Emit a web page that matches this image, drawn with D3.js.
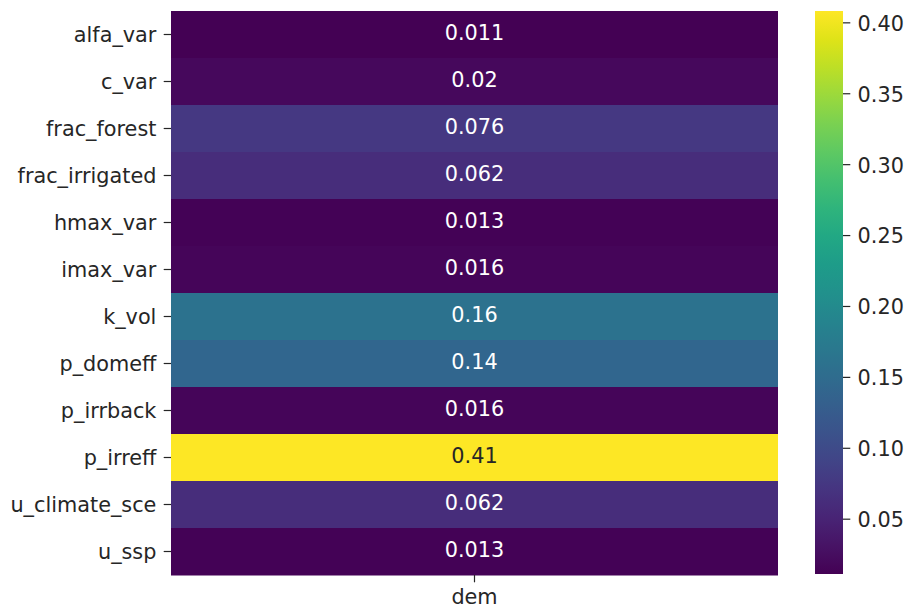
<!DOCTYPE html>
<html>
<head>
<meta charset="utf-8">
<script src="https://cdn.jsdelivr.net/npm/d3@7"></script>
<style>
  body { margin: 0; background: #fff; }
  svg text { font-family: "DejaVu Sans", sans-serif; fill: #262626; }
</style>
</head>
<body>
<svg id="chart"></svg>
<script>
// rows of the heatmap, top to bottom
var rowNames = ["alfa_var", "c_var", "frac_forest", "frac_irrigated", "hmax_var", "imax_var",
                "k_vol", "p_domeff", "p_irrback", "p_irreff", "u_climate_sce", "u_ssp"];
var colNames = ["dem"];
var demValues = [0.011, 0.020, 0.076, 0.062, 0.013, 0.016, 0.16, 0.14, 0.016, 0.408, 0.062, 0.013];
var cbarTicks = [0.05, 0.10, 0.15, 0.20, 0.25, 0.30, 0.35, 0.40];

var W = 906, H = 609;
var mLeft = 171, mRight = 778, mTop = 11, mBottom = 575;
var cbLeft = 815, cbRight = 843;
var fs = 20.8, tk = 7.3;

var svg = d3.select("#chart").attr("width", W).attr("height", H);

var y = d3.scaleBand().domain(rowNames).range([mTop, mBottom]);
var x = d3.scaleBand().domain(colNames).range([mLeft, mRight]);
var vmin = d3.min(demValues), vmax = d3.max(demValues);
var color = d3.scaleSequential(d3.interpolateViridis).domain([vmin, vmax]);

var cells = rowNames.map(function(r, i) { return {row: r, col: "dem", v: demValues[i]}; });

svg.append("g").selectAll("rect")
    .data(cells)
    .enter().append("rect")
    .attr("x", function(d) { return x(d.col); })
    .attr("y", function(d) { return y(d.row); })
    .attr("width", x.bandwidth())
    .attr("height", y.bandwidth() + 0.5)
    .attr("fill", function(d) { return color(d.v); });

var fmt = d3.format(".2~g");
svg.append("g").selectAll("text")
    .data(cells)
    .enter().append("text")
    .attr("x", function(d) { return x(d.col) + x.bandwidth() / 2; })
    .attr("y", function(d) { return y(d.row) + y.bandwidth() / 2 + 0.25 * fs; })
    .attr("text-anchor", "middle")
    .style("font-size", fs + "px")
    .style("fill", function(d) {
        var c = d3.rgb(color(d.v));
        var lum = 0.2126 * c.r / 255 + 0.7152 * c.g / 255 + 0.0722 * c.b / 255;
        return lum > 0.408 ? "#262626" : "#ffffff";
    })
    .text(function(d) { return fmt(d.v); });

function styleAxis(g) {
    g.select(".domain").remove();
    g.selectAll("line").attr("stroke", "#262626").attr("stroke-width", 1.2);
    g.selectAll("text").style("font-size", fs + "px").style("font-family", "DejaVu Sans");
}

// y axis
var yAxis = svg.append("g")
    .attr("transform", "translate(" + mLeft + ",0)")
    .call(d3.axisLeft(y).tickSize(tk).tickPadding(tk));
styleAxis(yAxis);
yAxis.selectAll("text").attr("dy", null).attr("y", 0.38 * fs);

// x axis
var xAxis = svg.append("g")
    .attr("transform", "translate(0," + mBottom + ")")
    .call(d3.axisBottom(x).tickSize(tk).tickPadding(tk));
styleAxis(xAxis);

// colorbar
var defs = svg.append("defs");
var grad = defs.append("linearGradient")
    .attr("id", "cbgrad").attr("x1", "0").attr("y1", "1").attr("x2", "0").attr("y2", "0");
d3.range(0, 1.0001, 0.05).forEach(function(t) {
    grad.append("stop").attr("offset", t).attr("stop-color", d3.interpolateViridis(t));
});
var cy = d3.scaleLinear().domain([vmin, vmax]).range([mBottom - 1, mTop]);
svg.append("rect")
    .attr("x", cbLeft).attr("y", mTop)
    .attr("width", cbRight - cbLeft).attr("height", mBottom - 1 - mTop)
    .attr("fill", "url(#cbgrad)");
var cAxis = svg.append("g")
    .attr("transform", "translate(" + cbRight + ",0)")
    .call(d3.axisRight(cy).tickValues(cbarTicks).tickFormat(d3.format(".2f")).tickSize(tk).tickPadding(tk));
styleAxis(cAxis);
cAxis.selectAll("text").attr("dy", null).attr("y", 0.38 * fs);
</script>
</body>
</html>
